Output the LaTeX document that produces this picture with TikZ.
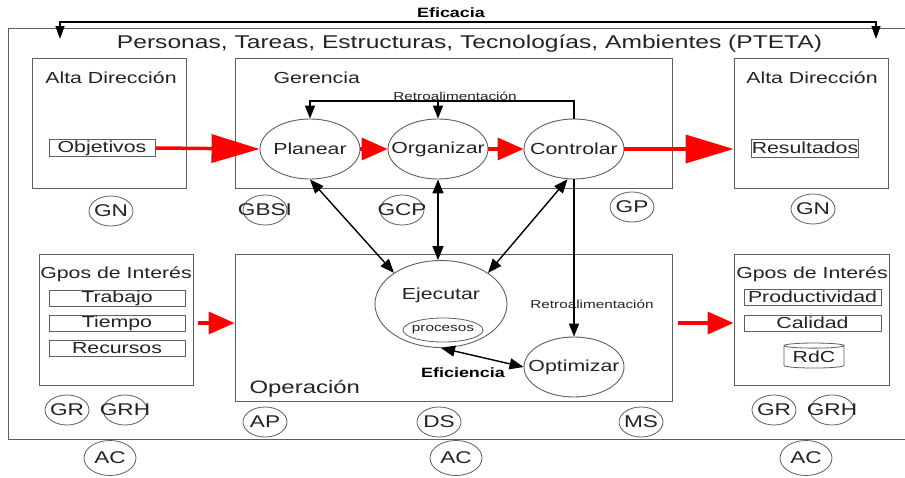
\documentclass[tikz,border=0pt]{standalone}
\usepackage{fontspec}
\setmainfont[FakeStretch=1.33]{Liberation Sans}
\usepackage{tikz}
\usetikzlibrary{shapes,arrows.meta,positioning}

\definecolor{boxgray}{RGB}{95,95,95}
\definecolor{ink}{RGB}{35,35,35}

\begin{document}
\begin{tikzpicture}[x=1pt,y=-1pt]
	\tikzstyle{Frame}	= [draw=boxgray, line width=1pt]
	\tikzstyle{Box}		= [rectangle, draw=boxgray, line width=1pt, inner sep=0pt]
	\tikzstyle{Item}	= [rectangle, draw=boxgray, line width=0.8pt, inner sep=0pt, minimum height=16pt, text=ink, font=\fontsize{16}{16}\selectfont]
	\tikzstyle{Thin}	= [execute at begin node={\hbox to 0pt\bgroup\hss}, execute at end node={\hss\egroup}]
	\tikzstyle{Step}	= [ellipse, draw=boxgray, line width=0.9pt, minimum width=100pt, minimum height=60pt, inner sep=0pt, text=ink, font=\fontsize{16}{16}\selectfont, Thin]
	\tikzstyle{Tag}		= [ellipse, draw=boxgray, line width=0.8pt, minimum width=44pt, minimum height=30pt, inner sep=0pt, text=ink, font=\fontsize{17}{17}\selectfont, Thin]
	\tikzstyle{BigTag}	= [Tag, minimum width=52pt, minimum height=35pt]
	\tikzstyle{Head}	= [text=ink, font=\fontsize{16}{16}\selectfont]
	\tikzstyle{Small}	= [text=ink, font=\fontsize{11.5}{12}\selectfont]
	\tikzstyle{Link}	= [black, line width=1.4pt, -{Triangle[length=13pt,width=10pt]}]
	\tikzstyle{Both}	= [black, line width=1.4pt, {Triangle[length=14pt,width=11pt]}-{Triangle[length=14pt,width=11pt]}]
	\tikzstyle{Flow}	= [red, line width=3.5pt, -{Triangle[length=48pt,width=28pt]}]
	\tikzstyle{FlowS}	= [red, line width=3.5pt, -{Triangle[length=26pt,width=22pt]}]

	\useasboundingbox (0,0) rectangle (905,477);
	\fill[white] (0,0) rectangle (905,477);

	\draw [Frame] (8,28) rectangle (915,439);
	\node (eftxt) at (451,13) [font=\bfseries\fontsize{13.5}{14}\selectfont] {Eficacia};
	\coordinate (ef1) at (60,39);
	\coordinate (ef2) at (876,39);
	\coordinate (efmid) at (451,22);
	\draw [{Triangle[length=13pt,width=9pt]}-{Triangle[length=13pt,width=9pt]}] (ef1) |- (efmid) -| (ef2) [line width=1.6pt];
	\node (pteta) at (469.5,44) [text=ink, font=\fontsize{18.5}{19}\selectfont] {Personas, Tareas, Estructuras, Tecnologías, Ambientes (PTETA)};

	% upper row
	\node (adl) at (109,123) [Box, minimum width=154pt, minimum height=130pt] {};
	\node (ger) at (453.5,123) [Box, minimum width=437pt, minimum height=130pt] {};
	\node (adr) at (811,123) [Box, minimum width=154pt, minimum height=130pt] {};
	\node (adltxt) at (111,78) [Head] {Alta Dirección};
	\node (gertxt) at (270,78) [Head, anchor=west] {Gerencia};
	\node (adrtxt) at (812,78) [Head] {Alta Dirección};

	\node (obj) at (102,148) [Item, minimum width=106pt, minimum height=17pt] {Objetivos};
	\node (res) at (805,148) [Item, minimum width=106pt, minimum height=18pt] {Resultados};

	\node (plan) at (310,149) [Step] {Planear};
	\node (org) at (438,149) [Step] {Organizar};
	\node (ctrl) at (574,149) [Step] {Controlar};

	\draw (obj.east) to (plan.west) [Flow];
	\draw (plan.east) to (org.west) [FlowS];
	\draw (org.east) to (ctrl.west) [FlowS];
	\draw (ctrl.east) to (adr.west |- ctrl.east) [Flow];

	\coordinate (rt1) at (310,101);
	\coordinate (rt2) at (438,101);
	\node (rtxt1) at (455,96) [Small] {Retroalimentación};
	\draw (ctrl.north) |- (rt1) -- (plan.north) [Link];
	\draw (rt2) -- (org.north) [Link];

	\node (gn1) at (111,211) [Tag] {GN};
	\node (gbsi) at (265,210) [Tag] {GBSI};
	\node (gcp) at (402,210) [Tag] {GCP};
	\node (gp) at (632,207) [Tag] {GP};
	\node (gn2) at (813,209) [Tag] {GN};

	% lower row
	\node (gil) at (116,319.5) [Box, minimum width=154pt, minimum height=131pt] {};
	\node (op) at (453.5,327.5) [Box, minimum width=437pt, minimum height=147pt] {};
	\node (gir) at (811.5,319.5) [Box, minimum width=155pt, minimum height=131pt] {};
	\node (giltxt) at (116,274) [Head] {Gpos de Interés};
	\node (optxt) at (246,389) [Head, anchor=west, font=\fontsize{18}{18}\selectfont] {Operación};
	\node (girtxt) at (812,274) [Head] {Gpos de Interés};

	\node (trab) at (117,298) [Item, minimum width=136pt] {Trabajo};
	\node (tiem) at (117,323) [Item, minimum width=136pt] {Tiempo};
	\node (recu) at (117,348) [Item, minimum width=136pt] {Recursos};
	\node (prod) at (812.5,297) [Item, minimum width=137pt] {Productividad};
	\node (cal) at (812.5,323) [Item, minimum width=137pt] {Calidad};
	\node (rdc) at (814,357) [cylinder, shape border rotate=90, aspect=0.12, draw=boxgray, line width=0.8pt, inner sep=0pt, minimum width=60pt, minimum height=25pt, text=ink, font=\fontsize{16}{16}\selectfont] {RdC};

	\draw ([xshift=4pt]gil.east |- tiem.east) to (op.west |- tiem.east) [FlowS];
	\draw ([xshift=5pt]op.east |- cal.east) to (gir.west |- cal.east) [FlowS];

	\node (ejec) at (441,304) [ellipse, draw=boxgray, line width=0.9pt, minimum width=132pt, minimum height=87pt, inner sep=0pt] {};
	\node (ejtxt) at (441,295) [Head] {Ejecutar};
	\node (proc) at (443,330) [ellipse, draw=boxgray, line width=0.8pt, minimum width=80pt, minimum height=24pt, inner sep=0pt, Small, Thin] {procesos};
	\node (opt) at (574,367) [Step] {Optimizar};
	\node (rtxt2) at (592,304) [Small] {Retroalimentación};
	\node (eftxt2) at (463,373) [font=\bfseries\fontsize{13.5}{14}\selectfont] {Eficiencia};

	\draw (ctrl.south) to (opt.north) [Link];
	\draw (plan.south) to (ejec.north west) [Both];
	\draw (org.south) to (org.south |- ejec.north) [Both];
	\draw (ctrl.258) to (ejec.north east) [Both];
	\draw (ejec.south) to (opt.west) [Both];

	\node (gr1) at (67,410) [Tag] {GR};
	\node (grh1) at (125,410) [Tag] {GRH};
	\node (ac1) at (110,458) [BigTag] {AC};
	\node (ap) at (265,422) [Tag] {AP};
	\node (ds) at (439,422) [Tag] {DS};
	\node (ms) at (641,422) [Tag] {MS};
	\node (ac2) at (456,458) [BigTag] {AC};
	\node (gr2) at (774,410) [Tag] {GR};
	\node (grh2) at (832,410) [Tag] {GRH};
	\node (ac3) at (806,458) [BigTag] {AC};
\end{tikzpicture}
\end{document}
